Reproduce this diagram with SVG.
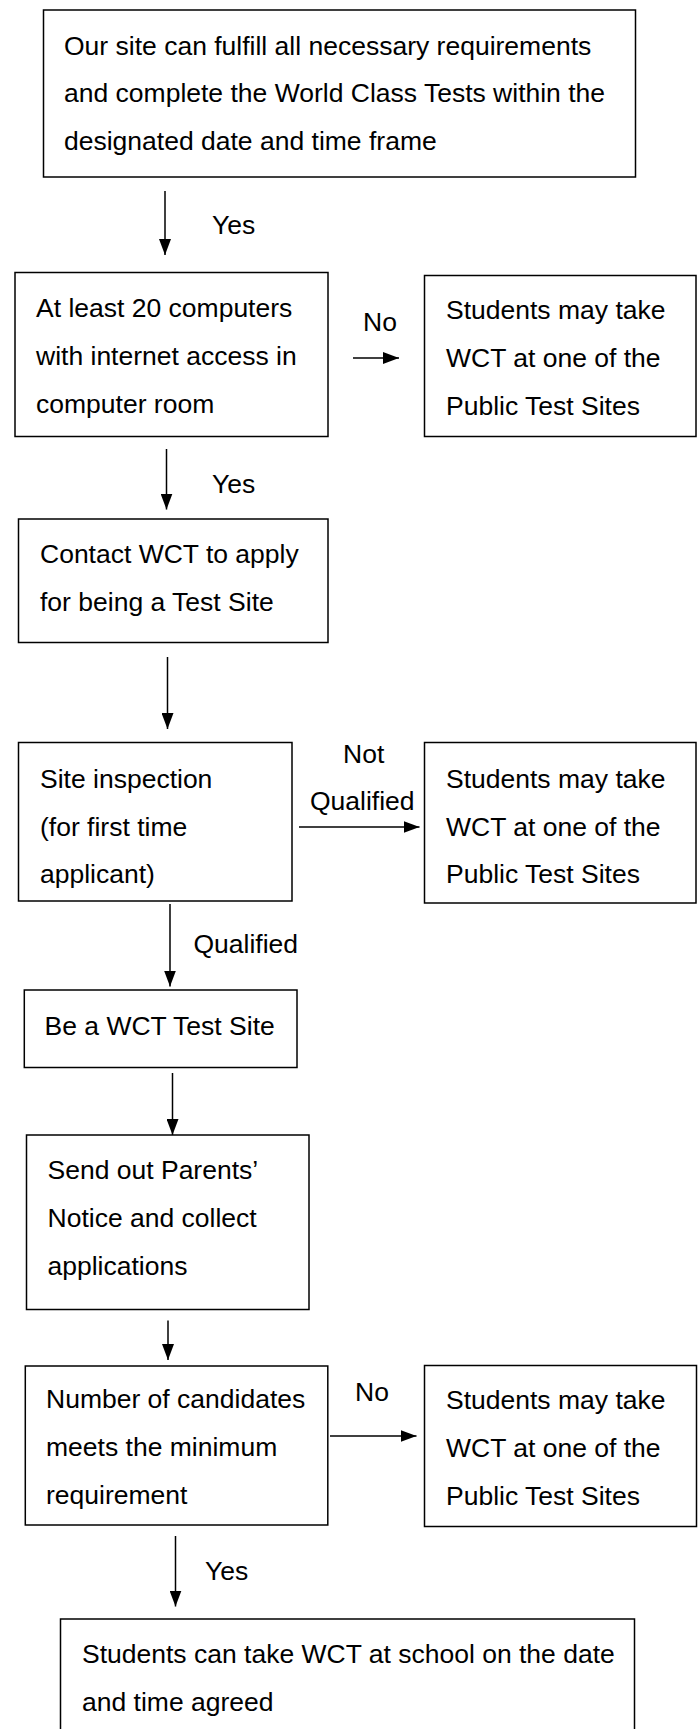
<svg xmlns="http://www.w3.org/2000/svg" width="700" height="1729" viewBox="0 0 700 1729">
<style>
.box{fill:#fff;stroke:#000;stroke-width:1.5}
.t{font-family:"Liberation Sans",Arial,sans-serif;font-size:26.5px;fill:#000}
.c{stroke:#000;stroke-width:1.5;fill:none}
</style>
<defs>
<marker id="ah" markerUnits="userSpaceOnUse" markerWidth="16" markerHeight="12" refX="16" refY="6" orient="auto">
<path d="M0,0 L16,6 L0,12 z" fill="#000"/>
</marker>
</defs>
<rect width="700" height="1729" fill="#fff"/>
<g id="n1"><rect class="box" x="43.5" y="10" width="592" height="167"/>
<text class="t" x="64" y="54.5">Our site can fulfill all necessary requirements</text>
<text class="t" x="64" y="102">and complete the World Class Tests within the</text>
<text class="t" x="64" y="149.5">designated date and time frame</text></g>
<g id="n2"><rect class="box" x="15" y="272.5" width="313" height="164"/>
<text class="t" x="36" y="317">At least 20 computers</text>
<text class="t" x="36" y="365">with internet access in</text>
<text class="t" x="36" y="413">computer room</text></g>
<g id="n3"><rect class="box" x="424.5" y="275.5" width="271.5" height="161"/>
<text class="t" x="446" y="319">Students may take</text>
<text class="t" x="446" y="367">WCT at one of the</text>
<text class="t" x="446" y="415">Public Test Sites</text></g>
<g id="n4"><rect class="box" x="18.5" y="519" width="309.5" height="123.5"/>
<text class="t" x="40" y="563">Contact WCT to apply</text>
<text class="t" x="40" y="611">for being a Test Site</text></g>
<g id="n5"><rect class="box" x="18.5" y="742.5" width="273.5" height="158.5"/>
<text class="t" x="40" y="788">Site inspection</text>
<text class="t" x="40" y="835.5">(for first time</text>
<text class="t" x="40" y="883">applicant)</text></g>
<g id="n6"><rect class="box" x="424.5" y="742.5" width="271.5" height="160.5"/>
<text class="t" x="446" y="788">Students may take</text>
<text class="t" x="446" y="835.5">WCT at one of the</text>
<text class="t" x="446" y="883">Public Test Sites</text></g>
<g id="n7"><rect class="box" x="24.3" y="990" width="272.7" height="77.5"/>
<text class="t" x="44.5" y="1035">Be a WCT Test Site</text></g>
<g id="n8"><rect class="box" x="26.5" y="1135" width="282.5" height="174.5"/>
<text class="t" x="47.5" y="1179">Send out Parents’</text>
<text class="t" x="47.5" y="1227">Notice and collect</text>
<text class="t" x="47.5" y="1275">applications</text></g>
<g id="n9"><rect class="box" x="25.3" y="1366" width="302.5" height="159"/>
<text class="t" x="46" y="1408">Number of candidates</text>
<text class="t" x="46" y="1456">meets the minimum</text>
<text class="t" x="46" y="1504">requirement</text></g>
<g id="n10"><rect class="box" x="424.5" y="1365.5" width="272" height="161"/>
<text class="t" x="446" y="1409">Students may take</text>
<text class="t" x="446" y="1457">WCT at one of the</text>
<text class="t" x="446" y="1505">Public Test Sites</text></g>
<g id="n11"><rect class="box" x="60.5" y="1619" width="574" height="130"/>
<text class="t" x="82" y="1663">Students can take WCT at school on the date</text>
<text class="t" x="82" y="1711">and time agreed</text></g>
<g id="connectors">
<line class="c" x1="165" y1="191" x2="165" y2="255" marker-end="url(#ah)"/>
<text class="t" x="212" y="233.5">Yes</text>
<line class="c" x1="353" y1="358" x2="399" y2="358" marker-end="url(#ah)"/>
<text class="t" x="363" y="330.5">No</text>
<line class="c" x1="166.5" y1="449" x2="166.5" y2="509.5" marker-end="url(#ah)"/>
<text class="t" x="212" y="492.5">Yes</text>
<line class="c" x1="167.5" y1="657" x2="167.5" y2="729" marker-end="url(#ah)"/>
<line class="c" x1="299" y1="827" x2="419.5" y2="827" marker-end="url(#ah)"/>
<text class="t" x="343" y="763">Not</text>
<text class="t" x="310" y="810">Qualified</text>
<line class="c" x1="170" y1="904" x2="170" y2="986.5" marker-end="url(#ah)"/>
<text class="t" x="193.5" y="953">Qualified</text>
<line class="c" x1="172.5" y1="1073" x2="172.5" y2="1135" marker-end="url(#ah)"/>
<line class="c" x1="168" y1="1320.5" x2="168" y2="1360" marker-end="url(#ah)"/>
<line class="c" x1="330" y1="1436" x2="416.5" y2="1436" marker-end="url(#ah)"/>
<text class="t" x="355" y="1401">No</text>
<line class="c" x1="175.5" y1="1536" x2="175.5" y2="1606.5" marker-end="url(#ah)"/>
<text class="t" x="205" y="1580">Yes</text>
</g>
</svg>
